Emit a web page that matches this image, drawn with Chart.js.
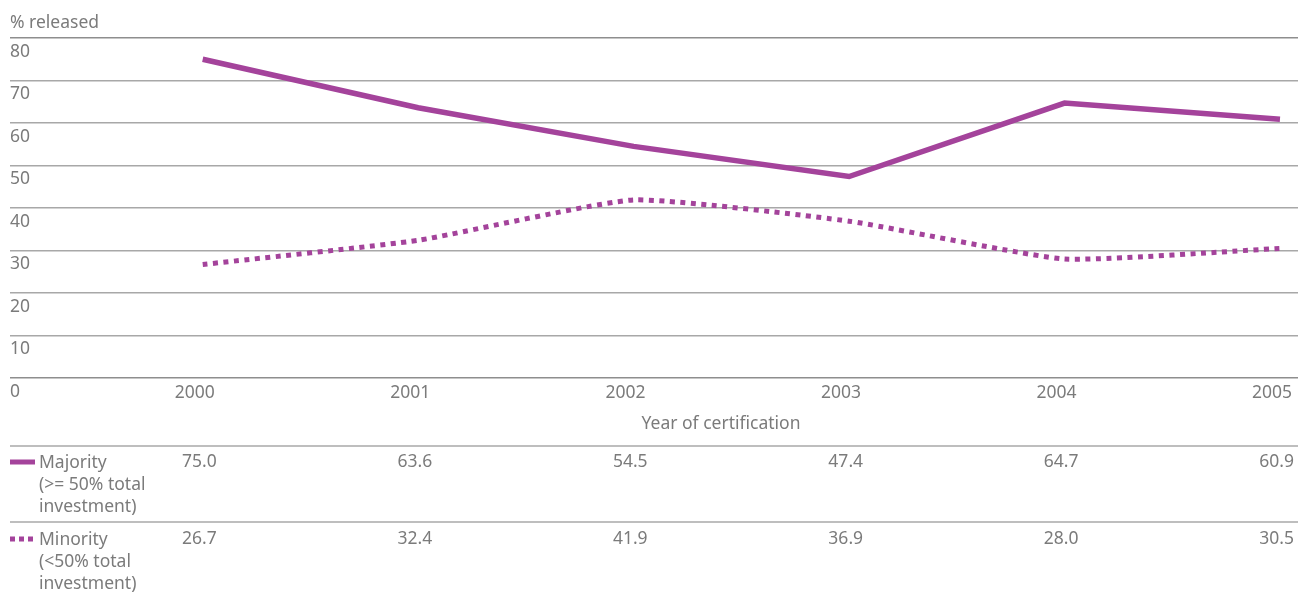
<!DOCTYPE html>
<html>
<head>
<meta charset="utf-8">
<script src="https://cdn.jsdelivr.net/npm/chart.js@4.4.1/dist/chart.umd.min.js"></script>
<style>
  html, body { margin: 0; padding: 0; background: #fff; }
  #wrap { width: 1298px; height: 596px; position: relative; }
</style>
</head>
<body>
<div id="wrap"><canvas id="releaseChart"></canvas></div>
<script>
const years = ['2000', '2001', '2002', '2003', '2004', '2005'];
const majority = [75.0, 63.6, 54.5, 47.4, 64.7, 60.9];
const minority = [26.7, 32.4, 41.9, 36.9, 28.0, 30.5];
const yTicks = [0, 10, 20, 30, 40, 50, 60, 70, 80];
const majorityLabel = ['Majority', '(>= 50% total', 'investment)'];
const minorityLabel = ['Minority', '(<50% total', 'investment)'];

const purple = '#a4439b';
const grey = '#7b7b7b';
const gridGrey = '#a8a8a8';
const font = '"Noto Sans", sans-serif';
const fontSize = 17.5;

function toPoints(values) {
    return values.map((v, i) => ({ x: i, y: v }));
}

// table under the chart + axis titles
const tablePlugin = {
    id: 'tablePlugin',
    afterDraw(chart) {
        const c = chart.ctx;
        const xs = chart.scales.x;
        c.save();
        c.font = fontSize + 'px ' + font;
        c.fillStyle = grey;
        c.textBaseline = 'middle';

        c.textAlign = 'left';
        c.fillText('% released', 10, 23);
        c.textAlign = 'center';
        c.fillText('Year of certification', 721, 424);

        c.strokeStyle = gridGrey;
        c.lineWidth = 1.5;
        [446, 522].forEach(y => {
            c.beginPath();
            c.moveTo(10, y);
            c.lineTo(1298, y);
            c.stroke();
        });

        const rows = [
            { label: majorityLabel, values: majority, y: 462, dash: [] },
            { label: minorityLabel, values: minority, y: 539, dash: [5, 4] }
        ];
        rows.forEach(row => {
            c.strokeStyle = purple;
            c.lineWidth = 5;
            c.setLineDash(row.dash);
            c.beginPath();
            c.moveTo(10, row.y);
            c.lineTo(35, row.y);
            c.stroke();
            c.setLineDash([]);

            c.textAlign = 'left';
            row.label.forEach((t, k) => c.fillText(t, 39, row.y + 1 + k * 22));

            c.textAlign = 'right';
            row.values.forEach((v, i) => {
                c.fillText(v.toFixed(1), xs.getPixelForValue(i) + 14, row.y);
            });
        });
        c.restore();
    }
};

new Chart(document.getElementById('releaseChart'), {
    type: 'line',
    data: {
        datasets: [
            {
                label: 'Majority',
                data: toPoints(majority),
                borderColor: purple,
                borderWidth: 5.5,
                pointRadius: 0,
                tension: 0,
                borderJoinStyle: 'miter'
            },
            {
                label: 'Minority',
                data: toPoints(minority),
                borderColor: purple,
                borderWidth: 5,
                borderDash: [5, 5.5],
                pointRadius: 0,
                tension: 0.15
            }
        ]
    },
    options: {
        responsive: true,
        maintainAspectRatio: false,
        animation: false,
        layout: { padding: { top: 38, left: 10, right: 0, bottom: 0 } },
        plugins: {
            legend: { display: false },
            tooltip: { enabled: false }
        },
        scales: {
            x: {
                type: 'linear',
                min: -0.8945,
                max: 5.0836,
                afterFit: scale => { scale.height = 218; },
                afterBuildTicks: scale => {
                    scale.ticks = years.map((y, i) => ({ value: i }));
                },
                grid: { display: false, drawTicks: false },
                border: { display: false },
                ticks: {
                    align: 'end',
                    labelOffset: 12,
                    padding: 5,
                    color: grey,
                    font: { family: font, size: fontSize },
                    callback: v => years[v]
                }
            },
            y: {
                min: 0,
                max: 80,
                afterFit: scale => { scale.width = 0; },
                afterBuildTicks: scale => {
                    scale.ticks = yTicks.map(v => ({ value: v }));
                },
                grid: {
                    drawTicks: false,
                    lineWidth: 1.5,
                    color: ctx => (ctx.tick && (ctx.tick.value === 80 || ctx.tick.value === 0)) ? '#8e8e8e' : gridGrey
                },
                border: { display: false },
                ticks: {
                    mirror: true,
                    padding: 0,
                    labelOffset: 14,
                    color: grey,
                    font: { family: font, size: fontSize }
                }
            }
        }
    },
    plugins: [tablePlugin]
});
</script>
</body>
</html>
